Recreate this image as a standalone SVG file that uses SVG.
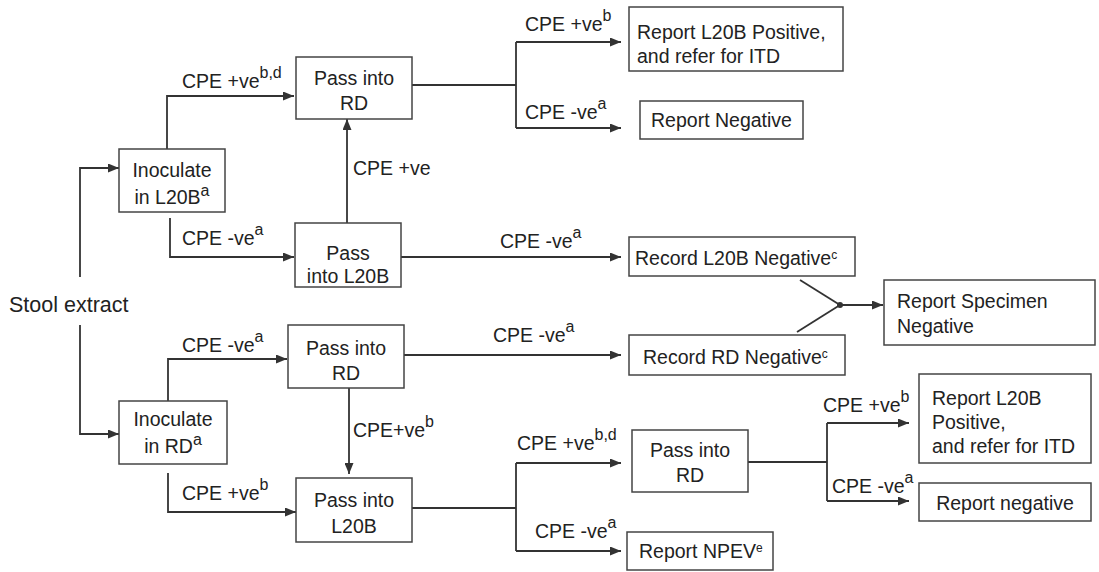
<svg xmlns="http://www.w3.org/2000/svg" width="1099" height="572" viewBox="0 0 1099 572">
<defs>
<marker id="ah" markerUnits="userSpaceOnUse" markerWidth="11" markerHeight="9" refX="11" refY="4.5" orient="auto">
<path d="M0,0 L11,4.5 L0,9 z" fill="#333"/>
</marker>
<style>
.box{fill:#fff;stroke:#444;stroke-width:1.5}
.t{font-family:"Liberation Sans",Arial,Helvetica,sans-serif;font-size:19.5px;fill:#222}
.c{text-anchor:middle}
.ln{fill:none;stroke:#333;stroke-width:1.8}
.ar{fill:none;stroke:#333;stroke-width:1.8;marker-end:url(#ah)}
.sup{font-size:16px}
.sm{font-size:12px}
</style>
</defs>
<rect width="1099" height="572" fill="#fff"/>

<g id="connectors">
<polyline class="ar" points="80,277 80,168 119,168"/>
<polyline class="ar" points="80,325 80,434 119,434"/>
<polyline class="ar" points="167,149 167,96 294,96"/>
<polyline class="ar" points="170,218 170,257 294,257"/>
<line class="ar" x1="347" y1="223" x2="347" y2="119"/>
<line class="ln" x1="412" y1="85" x2="516" y2="85"/>
<line class="ln" x1="516" y1="42" x2="516" y2="128"/>
<line class="ar" x1="516" y1="42" x2="621" y2="42"/>
<line class="ar" x1="516" y1="128" x2="621" y2="128"/>
<line class="ar" x1="401" y1="257" x2="621" y2="257"/>
<line class="ln" x1="800" y1="280" x2="840" y2="305"/>
<line class="ln" x1="797" y1="332" x2="840" y2="305"/>
<line class="ar" x1="840" y1="305" x2="883" y2="305"/>
<circle cx="840" cy="305" r="3" fill="#333"/>
<polyline class="ar" points="168,401 168,359 287,359"/>
<polyline class="ar" points="168,473 168,512 296,512"/>
<line class="ar" x1="404" y1="355" x2="621" y2="355"/>
<line class="ar" x1="349" y1="388" x2="349" y2="474"/>
<line class="ln" x1="412" y1="508" x2="516" y2="508"/>
<line class="ln" x1="516" y1="463" x2="516" y2="551"/>
<line class="ar" x1="516" y1="463" x2="621" y2="463"/>
<line class="ar" x1="516" y1="551" x2="621" y2="551"/>
<line class="ln" x1="748" y1="462" x2="827" y2="462"/>
<line class="ln" x1="827" y1="423" x2="827" y2="501"/>
<line class="ar" x1="827" y1="423" x2="909" y2="423"/>
<line class="ar" x1="827" y1="501" x2="909" y2="501"/>
</g>

<g id="labels">
<text class="t" x="182" y="88">CPE +ve<tspan class="sup" dy="-10">b,d</tspan></text>
<text class="t" x="182" y="245">CPE -ve<tspan class="sup" dy="-10">a</tspan></text>
<text class="t" x="353" y="175">CPE +ve</text>
<text class="t" x="525" y="31">CPE +ve<tspan class="sup" dy="-10">b</tspan></text>
<text class="t" x="525" y="119">CPE -ve<tspan class="sup" dy="-10">a</tspan></text>
<text class="t" x="500" y="248">CPE -ve<tspan class="sup" dy="-10">a</tspan></text>
<text class="t" x="182" y="352">CPE -ve<tspan class="sup" dy="-10">a</tspan></text>
<text class="t" x="182" y="500">CPE +ve<tspan class="sup" dy="-10">b</tspan></text>
<text class="t" x="493" y="342">CPE -ve<tspan class="sup" dy="-10">a</tspan></text>
<text class="t" x="353" y="437">CPE+ve<tspan class="sup" dy="-10">b</tspan></text>
<text class="t" x="517" y="450">CPE +ve<tspan class="sup" dy="-10">b,d</tspan></text>
<text class="t" x="535" y="538">CPE -ve<tspan class="sup" dy="-10">a</tspan></text>
<text class="t" x="823" y="412">CPE +ve<tspan class="sup" dy="-10">b</tspan></text>
<text class="t" x="832" y="493">CPE -ve<tspan class="sup" dy="-10">a</tspan></text>
</g>

<g id="stool">
<text class="t" x="9" y="312" style="font-size:21.5px">Stool extract</text>
</g>

<g id="inoc-l20b">
<rect class="box" x="119" y="149" width="106" height="63"/>
<text class="t c" x="172" y="177">Inoculate</text>
<text class="t c" x="172" y="204">in L20B<tspan class="sup" dy="-8">a</tspan></text>
</g>

<g id="pass-rd-1">
<rect class="box" x="296" y="57" width="116" height="62"/>
<text class="t c" x="354" y="85">Pass into</text>
<text class="t c" x="354" y="110">RD</text>
</g>

<g id="pass-l20b-1">
<rect class="box" x="295" y="223" width="106" height="64"/>
<text class="t c" x="348" y="260">Pass</text>
<text class="t c" x="348" y="283">into L20B</text>
</g>

<g id="report-l20b-pos-1">
<rect class="box" x="629" y="7" width="214" height="64"/>
<text class="t" x="637" y="39">Report L20B Positive,</text>
<text class="t" x="637" y="63">and refer for ITD</text>
</g>

<g id="report-neg-1">
<rect class="box" x="640" y="101" width="163" height="38"/>
<text class="t c" x="721.5" y="127">Report Negative</text>
</g>

<g id="record-l20b-neg">
<rect class="box" x="629" y="237" width="226" height="39"/>
<text class="t" x="635" y="265">Record L20B Negative<tspan class="sm" dy="-6">c</tspan></text>
</g>

<g id="report-specimen-neg">
<rect class="box" x="884" y="280" width="211" height="65"/>
<text class="t" x="897" y="308">Report Specimen</text>
<text class="t" x="897" y="333">Negative</text>
</g>

<g id="record-rd-neg">
<rect class="box" x="629" y="335" width="216" height="40"/>
<text class="t" x="643" y="364">Record RD Negative<tspan class="sm" dy="-6">c</tspan></text>
</g>

<g id="inoc-rd">
<rect class="box" x="119" y="401" width="108" height="63"/>
<text class="t c" x="173" y="426">Inoculate</text>
<text class="t c" x="173" y="453">in RD<tspan class="sup" dy="-8">a</tspan></text>
</g>

<g id="pass-rd-2">
<rect class="box" x="288" y="325" width="116" height="63"/>
<text class="t c" x="346" y="355">Pass into</text>
<text class="t c" x="346" y="380">RD</text>
</g>

<g id="pass-l20b-2">
<rect class="box" x="296" y="478" width="116" height="64"/>
<text class="t c" x="354" y="507">Pass into</text>
<text class="t c" x="354" y="533">L20B</text>
</g>

<g id="pass-rd-3">
<rect class="box" x="632" y="430" width="116" height="62"/>
<text class="t c" x="690" y="457">Pass into</text>
<text class="t c" x="690" y="482">RD</text>
</g>

<g id="report-npev">
<rect class="box" x="627" y="532" width="146" height="38"/>
<text class="t" x="639" y="558">Report NPEV<tspan class="sm" dy="-6">e</tspan></text>
</g>

<g id="report-l20b-pos-2">
<rect class="box" x="919" y="374" width="172" height="89"/>
<text class="t" x="932" y="405">Report L20B</text>
<text class="t" x="932" y="429">Positive,</text>
<text class="t" x="932" y="453">and refer for ITD</text>
</g>

<g id="report-neg-2">
<rect class="box" x="919" y="483" width="172" height="38"/>
<text class="t c" x="1005" y="510">Report negative</text>
</g>
</svg>
